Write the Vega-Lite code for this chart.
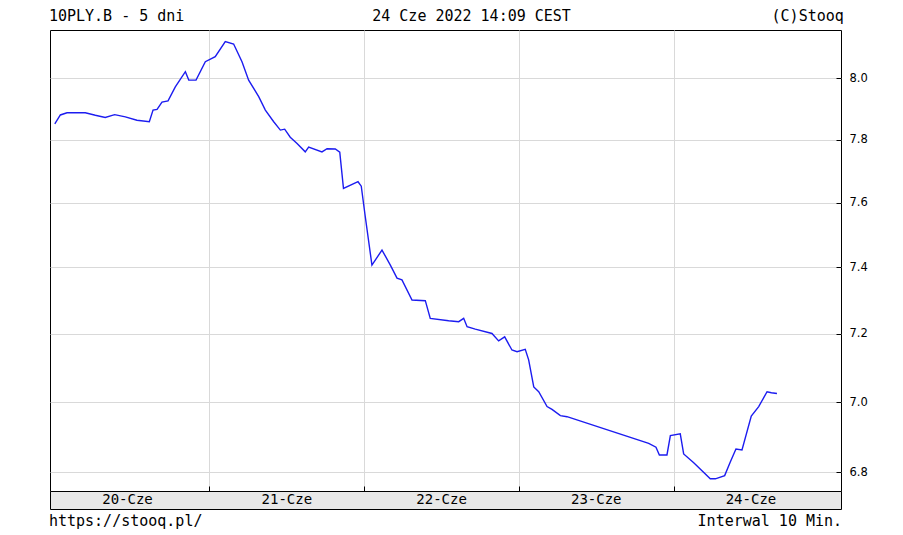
{
  "$schema": "https://vega.github.io/schema/vega-lite/v6.json",
  "background": "#ffffff",
  "padding": {"left": 48, "top": 2, "right": 0, "bottom": 0},
  "spacing": 0,
  "bounds": "flush",
  "config": {
    "view": {"stroke": null},
    "text": {"font": "DejaVu Sans Mono", "fontSize": 14, "color": "#000000"}
  },
  "datasets": {
    "linia": [
      {"t": 0.000, "v": 7.851}, {"t": 0.036, "v": 7.880}, {"t": 0.079, "v": 7.887}, {"t": 0.197, "v": 7.887},
      {"t": 0.262, "v": 7.879}, {"t": 0.326, "v": 7.872}, {"t": 0.387, "v": 7.881}, {"t": 0.456, "v": 7.874},
      {"t": 0.531, "v": 7.863}, {"t": 0.611, "v": 7.858}, {"t": 0.635, "v": 7.896}, {"t": 0.661, "v": 7.898},
      {"t": 0.693, "v": 7.922}, {"t": 0.732, "v": 7.926}, {"t": 0.779, "v": 7.972}, {"t": 0.844, "v": 8.022},
      {"t": 0.866, "v": 7.994}, {"t": 0.913, "v": 7.994}, {"t": 0.973, "v": 8.055}, {"t": 1.037, "v": 8.072},
      {"t": 1.102, "v": 8.122}, {"t": 1.156, "v": 8.114}, {"t": 1.210, "v": 8.055}, {"t": 1.253, "v": 7.994},
      {"t": 1.318, "v": 7.940}, {"t": 1.361, "v": 7.896}, {"t": 1.415, "v": 7.858}, {"t": 1.458, "v": 7.831},
      {"t": 1.486, "v": 7.834}, {"t": 1.522, "v": 7.808}, {"t": 1.566, "v": 7.788}, {"t": 1.619, "v": 7.761},
      {"t": 1.641, "v": 7.776}, {"t": 1.727, "v": 7.761}, {"t": 1.760, "v": 7.771}, {"t": 1.813, "v": 7.770},
      {"t": 1.842, "v": 7.760}, {"t": 1.866, "v": 7.645}, {"t": 1.960, "v": 7.666}, {"t": 1.981, "v": 7.652},
      {"t": 2.007, "v": 7.556}, {"t": 2.050, "v": 7.407}, {"t": 2.115, "v": 7.453}, {"t": 2.169, "v": 7.407},
      {"t": 2.212, "v": 7.367}, {"t": 2.244, "v": 7.362}, {"t": 2.309, "v": 7.301}, {"t": 2.395, "v": 7.299},
      {"t": 2.427, "v": 7.246}, {"t": 2.546, "v": 7.239}, {"t": 2.611, "v": 7.236}, {"t": 2.643, "v": 7.246},
      {"t": 2.665, "v": 7.221}, {"t": 2.718, "v": 7.214}, {"t": 2.826, "v": 7.201}, {"t": 2.869, "v": 7.179},
      {"t": 2.908, "v": 7.191}, {"t": 2.955, "v": 7.152}, {"t": 2.988, "v": 7.147}, {"t": 3.041, "v": 7.154},
      {"t": 3.063, "v": 7.123}, {"t": 3.096, "v": 7.044}, {"t": 3.128, "v": 7.030}, {"t": 3.182, "v": 6.987},
      {"t": 3.214, "v": 6.979}, {"t": 3.268, "v": 6.961}, {"t": 3.311, "v": 6.958}, {"t": 3.839, "v": 6.882},
      {"t": 3.886, "v": 6.871}, {"t": 3.908, "v": 6.849}, {"t": 3.957, "v": 6.849}, {"t": 3.979, "v": 6.904},
      {"t": 4.043, "v": 6.909}, {"t": 4.065, "v": 6.852}, {"t": 4.130, "v": 6.827}, {"t": 4.237, "v": 6.782},
      {"t": 4.270, "v": 6.782}, {"t": 4.330, "v": 6.791}, {"t": 4.367, "v": 6.830}, {"t": 4.403, "v": 6.866},
      {"t": 4.442, "v": 6.863}, {"t": 4.502, "v": 6.960}, {"t": 4.550, "v": 6.987}, {"t": 4.604, "v": 7.030},
      {"t": 4.632, "v": 7.027}, {"t": 4.668, "v": 7.025}
    ],
    "dni": [
      {"dzien": "20-Cze", "srodek": 0.47},
      {"dzien": "21-Cze", "srodek": 1.5},
      {"dzien": "22-Cze", "srodek": 2.5},
      {"dzien": "23-Cze", "srodek": 3.5},
      {"dzien": "24-Cze", "srodek": 4.5}
    ],
    "naglowek": [
      {"tekst": "10PLY.B - 5 dni", "t": -0.038, "wyr": "l"},
      {"tekst": "24 Cze 2022 14:09 CEST", "t": 2.694, "wyr": "c"},
      {"tekst": "(C)Stooq", "t": 5.1, "wyr": "r"}
    ],
    "stopka": [
      {"tekst": "https://stooq.pl/", "t": -0.038, "wyr": "l"},
      {"tekst": "Interwal 10 Min.", "t": 5.089, "wyr": "r"}
    ]
  },
  "vconcat": [
    {
      "width": 791,
      "height": 28,
      "data": {"name": "naglowek"},
      "layer": [
        {
          "transform": [{"filter": "datum.wyr == 'l'"}],
          "mark": {"type": "text", "align": "left", "baseline": "middle", "fontSize": 15},
          "encoding": {
            "x": {"field": "t", "type": "quantitative", "scale": {"domain": [-0.031, 5.082], "nice": false, "zero": false}, "axis": null},
            "text": {"field": "tekst"}
          }
        },
        {
          "transform": [{"filter": "datum.wyr == 'c'"}],
          "mark": {"type": "text", "align": "center", "baseline": "middle", "fontSize": 15},
          "encoding": {
            "x": {"field": "t", "type": "quantitative", "scale": {"domain": [-0.031, 5.082], "nice": false, "zero": false}, "axis": null},
            "text": {"field": "tekst"}
          }
        },
        {
          "transform": [{"filter": "datum.wyr == 'r'"}],
          "mark": {"type": "text", "align": "right", "baseline": "middle", "fontSize": 15},
          "encoding": {
            "x": {"field": "t", "type": "quantitative", "scale": {"domain": [-0.031, 5.082], "nice": false, "zero": false}, "axis": null},
            "text": {"field": "tekst"}
          }
        }
      ]
    },
    {
      "width": 791,
      "height": 461,
      "view": {"stroke": "#000000", "strokeWidth": 1},
      "data": {"name": "linia"},
      "mark": {"type": "line", "color": "#1c1cf0", "strokeWidth": 1.4, "interpolate": "linear"},
      "encoding": {
        "x": {
          "field": "t", "type": "quantitative",
          "scale": {"domain": [-0.031, 5.082], "nice": false, "zero": false},
          "axis": {
            "orient": "bottom", "values": [1, 2, 3, 4], "labels": false, "title": null,
            "domain": false, "grid": true, "gridColor": "#d9d9d9", "gridWidth": 1,
            "ticks": true, "tickSize": -5, "tickColor": "#000000", "tickWidth": 1
          }
        },
        "y": {
          "field": "v", "type": "quantitative",
          "scale": {"type": "log", "domain": [6.748, 8.161], "nice": false, "zero": false},
          "axis": {
            "orient": "right", "values": [6.8, 7.0, 7.2, 7.4, 7.6, 7.8, 8.0], "format": ".1f", "title": null,
            "domain": false, "grid": true, "gridColor": "#d9d9d9", "gridWidth": 1,
            "ticks": true, "tickSize": -5, "tickColor": "#000000", "tickWidth": 1,
            "labelPadding": 13, "labelFont": "DejaVu Sans", "labelFontSize": 11.5, "labelColor": "#000000"
          }
        }
      }
    },
    {
      "width": 791,
      "height": 18,
      "view": {"fill": "#e8e8e8", "stroke": "#000000", "strokeWidth": 1},
      "data": {"name": "dni"},
      "mark": {"type": "text", "align": "center", "baseline": "middle", "fontSize": 14},
      "encoding": {
        "x": {"field": "srodek", "type": "quantitative", "scale": {"domain": [-0.031, 5.082], "nice": false, "zero": false}, "axis": null},
        "text": {"field": "dzien"}
      }
    },
    {
      "width": 791,
      "height": 24,
      "data": {"name": "stopka"},
      "layer": [
        {
          "transform": [{"filter": "datum.wyr == 'l'"}],
          "mark": {"type": "text", "align": "left", "baseline": "middle", "fontSize": 15},
          "encoding": {
            "x": {"field": "t", "type": "quantitative", "scale": {"domain": [-0.031, 5.082], "nice": false, "zero": false}, "axis": null},
            "text": {"field": "tekst"}
          }
        },
        {
          "transform": [{"filter": "datum.wyr == 'r'"}],
          "mark": {"type": "text", "align": "right", "baseline": "middle", "fontSize": 15},
          "encoding": {
            "x": {"field": "t", "type": "quantitative", "scale": {"domain": [-0.031, 5.082], "nice": false, "zero": false}, "axis": null},
            "text": {"field": "tekst"}
          }
        }
      ]
    }
  ]
}
